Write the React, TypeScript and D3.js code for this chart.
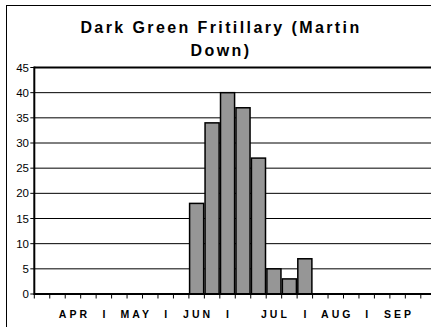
import React from "react";
import * as d3 from "d3";

const W = 431;
const H = 327;

const titleLines = ["Dark Green Fritillary (Martin", "Down)"];
const categoryLabels = [
  "", "", "APR", "", "I", "", "MAY", "", "I", "", "JUN", "", "I", "", "", "JUL", "", "I", "", "AUG", "", "I", "", "SEP", "", "",
];
const counts = [0, 0, 0, 0, 0, 0, 0, 0, 0, 0, 18, 34, 40, 37, 27, 5, 3, 7, 0, 0, 0, 0, 0, 0, 0, 0];
const yTicks = [0, 5, 10, 15, 20, 25, 30, 35, 40, 45];

export default function App() {
  const left = 34.3;
  const step = 15.46;
  const idx = categoryLabels.map((_, i) => String(i));
  const x = d3
    .scaleBand<string>()
    .domain(idx)
    .range([left, left + step * idx.length])
    .paddingInner(0.09)
    .paddingOuter(0.045);
  const y = d3.scaleLinear().domain([0, 45]).range([294, 67.5]);
  const bandStart = (i: number) => left + i * step;

  return (
    <svg
      width={W}
      height={H}
      style={{ position: "absolute", left: 0, top: 0, background: "#fff" }}
      fontFamily="Arial, 'Liberation Sans', sans-serif"
    >
      <rect x={0} y={0} width={W} height={H} fill="#fff" />
      <rect x={6.5} y={5.5} width={W + 20} height={H + 20} fill="none" stroke="#000" strokeWidth={1} />
      {titleLines.map((t, i) => (
        <text
          key={i}
          x={221}
          y={33 + i * 22.5}
          textAnchor="middle"
          fontSize={16}
          fontWeight="bold"
          letterSpacing={2.4}
          fill="#000"
        >
          {t}
        </text>
      ))}
      {yTicks.map((t) => (
        <g key={t}>
          {t > 0 && (
            <line
              x1={left}
              x2={W}
              y1={y(t)}
              y2={y(t)}
              stroke="#000"
              strokeWidth={t === 45 ? 2 : 1}
            />
          )}
          <line x1={left - 4} x2={left} y1={y(t)} y2={y(t)} stroke="#000" strokeWidth={1} />
          <text x={29} y={y(t) + 4} textAnchor="end" fontSize={11.5} fill="#000">
            {t}
          </text>
        </g>
      ))}
      {counts.map((c, i) =>
        c > 0 ? (
          <rect
            key={i}
            x={x(String(i)) as number}
            y={y(c)}
            width={x.bandwidth()}
            height={y(0) - y(c)}
            fill="#969696"
            stroke="#000"
            strokeWidth={1.5}
          />
        ) : null
      )}
      <line x1={left} x2={left} y1={66.5} y2={295} stroke="#000" strokeWidth={2} />
      <line x1={left} x2={W} y1={294} y2={294} stroke="#000" strokeWidth={2} />
      {d3.range(idx.length + 1).map((i) => (
        <line
          key={i}
          x1={bandStart(i)}
          x2={bandStart(i)}
          y1={294}
          y2={298.5}
          stroke="#000"
          strokeWidth={1}
        />
      ))}
      {categoryLabels.map((l, i) =>
        l ? (
          <text
            key={i}
            x={(x(String(i)) as number) + x.bandwidth() / 2 + 1.5}
            y={317.5}
            textAnchor="middle"
            fontSize={10.5}
            fontWeight="bold"
            letterSpacing={3}
            fill="#000"
          >
            {l}
          </text>
        ) : null
      )}
    </svg>
  );
}
